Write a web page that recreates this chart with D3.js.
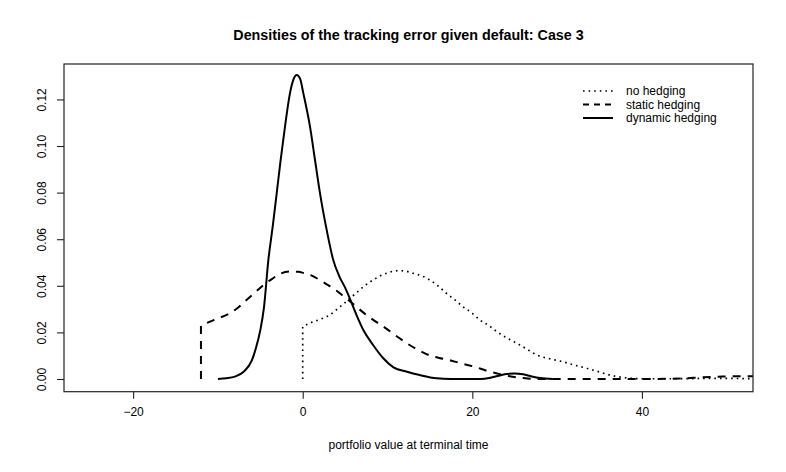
<!DOCTYPE html>
<html>
<head>
<meta charset="utf-8">
<script src="https://cdn.jsdelivr.net/npm/d3@7"></script>
<style>
  body { margin: 0; background: #fff; }
  text { font-family: "Liberation Sans", Arial, Helvetica, sans-serif; }
</style>
</head>
<body>
<script>
// data (x = portfolio value, y = density)
var noHedgeX = [0, 0, 1.2, 2.2, 3.2, 4.0, 4.8, 5.6, 6.4, 7.3, 8.3, 9.1, 9.9, 10.6, 11.3, 12.1, 13.0, 14.0, 15.0, 16.0, 17.0, 18.0, 18.9, 20.0, 20.9, 22.0, 22.9, 24.0, 25.6, 26.6, 27.6, 29.0, 30.7, 32.0, 33.5, 35.0, 36.2, 37.5, 38.6, 40, 43, 46, 49, 52, 53.5];
var noHedgeY = [0, 0.0225, 0.0245, 0.0258, 0.0275, 0.0298, 0.0322, 0.0347, 0.0372, 0.04, 0.0425, 0.0442, 0.0454, 0.0462, 0.0465, 0.0463, 0.0454, 0.0443, 0.0425, 0.0398, 0.0366, 0.0338, 0.031, 0.0282, 0.0253, 0.0228, 0.0203, 0.0178, 0.0146, 0.0125, 0.0103, 0.0088, 0.0074, 0.006, 0.0046, 0.003, 0.0017, 0.0008, 0.0003, 0.0001, 0.0001, 0.0002, 0.0003, 0.0002, 0.0002];

var staticX = [-12, -12, -10.5, -8.6, -7.5, -6.6, -5.6, -4.6, -3.6, -2.7, -1.5, -0.5, 0.1, 1.0, 2.0, 3.0, 4.0, 4.8, 5.6, 6.5, 7.5, 8.8, 10.1, 11.3, 12.6, 13.8, 15.0, 16.1, 17.2, 18.6, 20.0, 21.0, 22.1, 22.9, 24.4, 26.0, 27.6, 32, 36, 40, 43, 45, 47, 49, 51, 53.5];
var staticY = [0, 0.0229, 0.0253, 0.0282, 0.031, 0.034, 0.0372, 0.0404, 0.043, 0.0451, 0.0461, 0.046, 0.0455, 0.0445, 0.0425, 0.0403, 0.0379, 0.0356, 0.0333, 0.0305, 0.0275, 0.0242, 0.021, 0.0178, 0.0146, 0.0121, 0.0101, 0.009, 0.0082, 0.0068, 0.0055, 0.0044, 0.0031, 0.0024, 0.0012, 0.0004, 0, 0, 0, 0, 0.0001, 0.0003, 0.0007, 0.001, 0.0012, 0.0012];

var dynamicX = [-10, -9, -8, -7, -6, -5.5, -5, -4.56, -4.05, -3.54, -3.07, -2.6, -2.09, -1.5, -1.1, -0.7, -0.3, 0.07, 0.86, 1.45, 2.04, 2.75, 3.6, 4.3, 5.0, 5.6, 6.4, 7.15, 8.3, 9.5, 10.7, 12.3, 13.8, 15.8, 17.4, 21, 22, 23, 24, 25, 26, 27, 28, 29.5];
var dynamicY = [0, 0.0003, 0.001, 0.003, 0.008, 0.0135, 0.021, 0.031, 0.0511, 0.0654, 0.0797, 0.094, 0.1083, 0.1227, 0.1285, 0.1305, 0.1288, 0.1227, 0.1083, 0.094, 0.0797, 0.0654, 0.0511, 0.0442, 0.0392, 0.0342, 0.027, 0.021, 0.0146, 0.0089, 0.005, 0.0031, 0.0017, 0.0003, 0, 0, 0.0004, 0.0013, 0.0021, 0.0024, 0.002, 0.0011, 0.0004, 0];

var seriesNames = ["no hedging", "static hedging", "dynamic hedging"];
var xTicks = [-20, 0, 20, 40];
var yTicks = [0, 0.02, 0.04, 0.06, 0.08, 0.10, 0.12];

var width = 786, height = 472;
var box = { left: 64, right: 753, top: 64, bottom: 391.7 };

var svg = d3.select("body").append("svg")
    .attr("width", width)
    .attr("height", height);

var xScale = d3.scaleLinear().domain([-28.15, 53.1]).range([box.left, box.right]);
var yScale = d3.scaleLinear().domain([-0.00545, 0.1352]).range([box.bottom, box.top]);

// linjetyper som i R: dotted, dashed, solid
var styles = [
    { dash: "1.6,4", w: 1.7 },
    { dash: "8,7", w: 2 },
    { dash: null, w: 2 }
];

var series = [
    { xs: noHedgeX, ys: noHedgeY },
    { xs: staticX, ys: staticY },
    { xs: dynamicX, ys: dynamicY }
];

svg.append("clipPath").attr("id", "plotClip")
  .append("rect")
    .attr("x", box.left).attr("y", box.top)
    .attr("width", box.right - box.left).attr("height", box.bottom - box.top);

var line = d3.line()
    .x(function(d) { return xScale(d[0]); })
    .y(function(d) { return yScale(d[1]); })
    .curve(d3.curveMonotoneX);

var straight = d3.line()
    .x(function(d) { return xScale(d[0]); })
    .y(function(d) { return yScale(d[1]); });

var plot = svg.append("g").attr("clip-path", "url(#plotClip)");

series.forEach(function(s, i) {
    var pts = s.xs.map(function(x, j) { return [x, s.ys[j]]; });
    // the vertical start segment is drawn straight, the rest smooth
    var d = i < 2 ? straight(pts.slice(0, 2)) + line(pts.slice(1)).replace(/^M/, "L") : line(pts);
    var p = plot.append("path")
        .attr("fill", "none")
        .attr("stroke", "#000")
        .attr("stroke-width", styles[i].w)
        .attr("stroke-linejoin", "round")
        .attr("d", d);
    if (styles[i].dash) p.attr("stroke-dasharray", styles[i].dash);
});

// box
svg.append("rect")
    .attr("x", box.left).attr("y", box.top)
    .attr("width", box.right - box.left).attr("height", box.bottom - box.top)
    .attr("fill", "none").attr("stroke", "#222").attr("stroke-width", 1.2);

// axlar
var xAxis = d3.axisBottom(xScale).tickValues(xTicks).tickSize(7).tickPadding(9).tickFormat(d3.format("d"));
var xg = svg.append("g").attr("transform", "translate(0," + box.bottom + ")").call(xAxis);

var yAxis = d3.axisLeft(yScale).tickValues(yTicks).tickSize(7).tickFormat(d3.format(".2f"));
var yg = svg.append("g").attr("transform", "translate(" + box.left + ",0)").call(yAxis);

[xg, yg].forEach(function(g) {
    g.select(".domain").remove();
    g.selectAll(".tick line").attr("stroke", "#222").attr("stroke-width", 1.1);
    g.selectAll("text").attr("font-size", 12).attr("fill", "#000")
        .style("font-family", "'Liberation Sans', Arial, sans-serif");
});
// y-etiketter roterade
yg.selectAll(".tick text")
    .attr("x", null).attr("dy", null)
    .attr("transform", "translate(-22,0) rotate(-90)")
    .attr("text-anchor", "middle")
    .attr("dominant-baseline", "central");

// titel och axeltext
svg.append("text")
    .attr("x", (box.left + box.right) / 2).attr("y", 40)
    .attr("text-anchor", "middle")
    .attr("font-size", 14.3).attr("font-weight", "bold")
    .text("Densities of the tracking error given default: Case 3");

svg.append("text")
    .attr("x", (box.left + box.right) / 2).attr("y", 449)
    .attr("text-anchor", "middle")
    .attr("font-size", 12)
    .text("portfolio value at terminal time");

// legend
var legend = svg.append("g");
seriesNames.forEach(function(name, i) {
    var y = 91 + i * 13.5;
    var l = legend.append("line")
        .attr("x1", 583).attr("x2", 613).attr("y1", y).attr("y2", y)
        .attr("stroke", "#000").attr("stroke-width", styles[i].w);
    if (styles[i].dash) l.attr("stroke-dasharray", i === 1 ? "6,5" : styles[i].dash);
    legend.append("text")
        .attr("x", 626).attr("y", y).attr("dy", "0.35em")
        .attr("font-size", 12)
        .text(name);
});
</script>
</body>
</html>
